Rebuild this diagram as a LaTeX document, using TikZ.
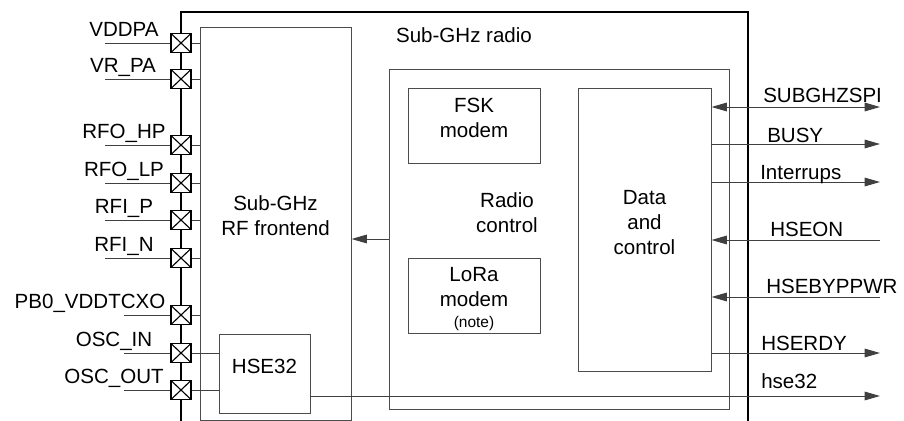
\documentclass[tikz,border=0pt]{standalone}
\usepackage{fontspec}
\setmainfont{Liberation Sans}
\usetikzlibrary{arrows.meta,fit}

\begin{document}
\begin{tikzpicture}[x=0.025cm,y=-0.025cm,
        font=\fontsize{14.6}{17.8}\selectfont,
        box/.style={draw=black!70,line width=0.7pt,inner sep=0pt,align=center},
        padbox/.style={draw,fill=white,line width=1.3pt,minimum width=0.5cm,minimum height=0.475cm,inner sep=0pt,
            path picture={\draw[line width=0.8pt] (path picture bounding box.north west) -- (path picture bounding box.south east)
                (path picture bounding box.south west) -- (path picture bounding box.north east);}},
        wire/.style={black!75,line width=0.7pt},
        tip/.tip={Triangle[length=11pt,width=6.2pt]},
        sigout/.style={wire,-tip},
        sigin/.style={wire,tip-},
        sigboth/.style={wire,tip-tip},
        chip/.style={line width=1.4pt}]
        \useasboundingbox (0,0) rectangle (904,421);
        % chip outline
        \draw[chip] (181,421) -- (181,12) -- (748,12) -- (748,421);
        \node (radiolbl) at (464,35) {Sub-GHz radio};
        % blocks
        \node[box,fit={(200,27) (351,420)}] (fe) {Sub-GHz\\RF frontend};
        \node[box,fit={(219,334) (310,413)}] (hse) {HSE32};
        \node[box,fit={(389,69) (729,409)}] (rc) {};
        \node[align=center] (rclbl) at (507,213) {Radio\\control};
        \node[box,fit={(408,88) (540,163)}] (fsk) {FSK\\modem};
        \node[box,fit={(408,258) (540,333)}] (lora) {};
        \node[align=center] (loralbl) at (474,299) {LoRa\\modem\\[-3pt]{\fontsize{11}{13}\selectfont (note)}};
        \node[box,fit={(578,88) (711,371)}] (dc) {Data\\and\\control};
        % pads
        \foreach \py/\pname/\lx/\sx [count=\i] in {43/VDDPA/124/105, 79/VR\_PA/123/105, 145/RFO\_HP/124/105,
                183/RFO\_LP/124/105, 220/RFI\_P/124/105, 258/RFI\_N/124/105,
                315/PB0\_VDDTCXO/90/124, 353/OSC\_IN/114/124, 390/OSC\_OUT/114/124}
        {
            \node[padbox] (pad\i) at (181,\py) {};
            \coordinate (lead\i) at (\sx,\py);
            \draw[wire] (lead\i) -- (pad\i.west);
            \node[anchor=base] (padlbl\i) at (\lx,\py-7) {\pname};
        }
        \foreach \i in {1,...,7}
            \draw[wire] (pad\i.east) -- (fe.west |- pad\i);
        \foreach \i in {8,9}
            \draw[wire] (pad\i.east) -- (hse.west |- pad\i);
        % radio control to frontend
        \coordinate (rcfe) at (389,239);
        \draw[sigout] (rc.west |- rcfe) -- (fe.east |- rcfe);
        % signals on the right
        \foreach \sy/\sname/\slx/\sdy/\dir [count=\j] in {107/SUBGHZSPI/763/5/sigboth, 144/BUSY/767/2/sigout,
                182/Interrups/760/3/sigout, 240/HSEON/770/4/sigin,
                297/HSEBYPPWR/766/4/sigin, 353/HSERDY/761/3/sigout}
        {
            \coordinate (end\j) at (880,\sy);
            \draw[\dir] (dc.east |- end\j) -- (end\j);
            \node[anchor=base west,inner sep=0pt] (siglbl\j) at (\slx,\sy-\sdy) {\sname};
        }
        \coordinate (hseout) at (880,396);
        \draw[sigout] (hse.east |- hseout) -- (hseout);
        \node[anchor=base west,inner sep=0pt] (hselbl) at (761,388) {hse32};
    \end{tikzpicture}
\end{document}
